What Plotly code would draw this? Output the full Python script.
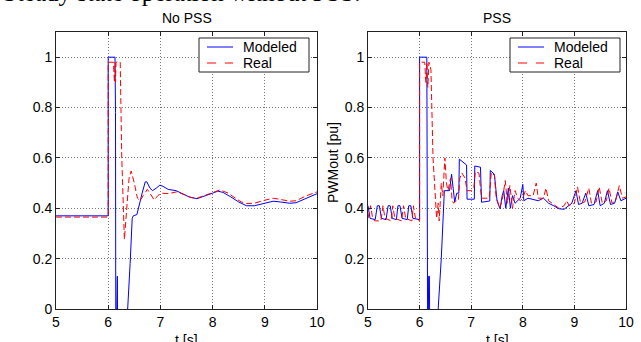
import plotly.graph_objects as go

# ---------------- data ----------------
# Left panel: No PSS
t_mod_nopss = [5.0, 6.0, 6.0, 6.13, 6.14, 6.145, 6.16, 6.165, 6.175, 6.18, 6.36, 6.37, 6.42, 6.46, 6.48,
               6.55, 6.6, 6.65, 6.71, 6.74, 6.8, 6.85, 6.92, 6.99, 7.05, 7.15, 7.3, 7.43, 7.55, 7.7,
               7.85, 8.0, 8.1, 8.2, 8.35, 8.5, 8.65, 8.8, 9.0, 9.16, 9.3, 9.48, 9.6, 9.8, 10.0]
p_mod_nopss = [0.37, 0.37, 1.0, 1.0, 0.78, -0.05, -0.05, 0.13, 0.13, -0.05, -0.05, 0.0, 0.18, 0.36, 0.37,
               0.375, 0.42, 0.46, 0.505, 0.505, 0.48, 0.47, 0.48, 0.492, 0.487, 0.475, 0.47, 0.456, 0.445, 0.438,
               0.448, 0.46, 0.468, 0.463, 0.445, 0.425, 0.41, 0.41, 0.42, 0.428, 0.425, 0.42, 0.422, 0.44, 0.458]

t_real_nopss = [5.0, 6.0, 6.0, 6.1, 6.12, 6.13, 6.14, 6.15, 6.23, 6.26, 6.31, 6.35, 6.4, 6.44, 6.5,
                6.56, 6.61, 6.67, 6.75, 6.8, 6.88, 6.95, 7.02, 7.15, 7.31, 7.45, 7.6, 7.7, 7.85, 8.0,
                8.14, 8.3, 8.45, 8.55, 8.65, 8.8, 9.0, 9.16, 9.3, 9.48, 9.6, 9.8, 10.0]
p_real_nopss = [0.365, 0.365, 0.98, 0.98, 0.9, 0.98, 0.9, 0.98, 0.98, 0.6, 0.276, 0.4, 0.52, 0.548, 0.5,
                0.44, 0.43, 0.45, 0.475, 0.46, 0.433, 0.45, 0.46, 0.458, 0.465, 0.455, 0.442, 0.44, 0.45, 0.462,
                0.473, 0.46, 0.438, 0.425, 0.419, 0.42, 0.432, 0.44, 0.435, 0.428, 0.43, 0.45, 0.465]

# Right panel: PSS
t_mod_pss = [5.0, 5.04, 5.14, 5.18, 5.22, 5.26, 5.35, 5.39, 5.43, 5.47, 5.55, 5.58, 5.62, 5.66, 5.76,
             5.79, 5.83, 5.87, 6.0, 6.0, 6.14, 6.145, 6.155, 6.17, 6.175, 6.19, 6.195, 6.35, 6.36, 6.42, 6.46,
             6.48, 6.58, 6.62, 6.65, 6.68, 6.72, 6.76, 6.77, 6.85, 6.91, 6.92, 7.06, 7.07, 7.18, 7.2,
             7.36, 7.37, 7.45, 7.5, 7.56, 7.6, 7.63, 7.67, 7.72, 7.76, 7.8, 7.85, 7.9, 7.95, 8.0,
             8.02, 8.1, 8.2, 8.3, 8.4, 8.5, 8.6, 8.7, 8.8, 8.9, 8.95, 9.03, 9.08, 9.15, 9.22,
             9.28, 9.38, 9.45, 9.5, 9.58, 9.64, 9.7, 9.78, 9.84, 9.9, 10.0]
p_mod_pss = [0.41, 0.36, 0.355, 0.41, 0.41, 0.36, 0.355, 0.41, 0.41, 0.36, 0.355, 0.41, 0.41, 0.36, 0.355,
             0.41, 0.41, 0.36, 0.355, 1.0, 1.0, 0.77, -0.05, -0.05, 0.13, 0.13, -0.05, -0.05, 0.0, 0.2, 0.4,
             0.47, 0.47, 0.535, 0.48, 0.425, 0.46, 0.46, 0.595, 0.58, 0.572, 0.436, 0.436, 0.568, 0.563, 0.424,
             0.429, 0.55, 0.535, 0.43, 0.398, 0.45, 0.47, 0.4, 0.48, 0.4, 0.45, 0.42, 0.43, 0.44, 0.495,
             0.43, 0.44, 0.435, 0.43, 0.44, 0.42, 0.41, 0.398, 0.396, 0.41, 0.42, 0.47, 0.415, 0.42, 0.46,
             0.41, 0.415, 0.47, 0.41, 0.42, 0.47, 0.415, 0.42, 0.465, 0.43, 0.44]

t_real_pss = [5.0, 5.05, 5.09, 5.13, 5.25, 5.29, 5.33, 5.45, 5.48, 5.52, 5.65, 5.69, 5.73, 5.85, 5.88,
              5.92, 6.0, 6.0, 6.1, 6.12, 6.14, 6.16, 6.18, 6.22, 6.26, 6.3, 6.33, 6.36, 6.38, 6.42,
              6.45, 6.49, 6.52, 6.55, 6.6, 6.63, 6.66, 6.7, 6.75, 6.78, 6.82, 6.88, 6.92, 7.0, 7.05,
              7.08, 7.15, 7.2, 7.35, 7.39, 7.45, 7.48, 7.55, 7.6, 7.66, 7.7, 7.75, 7.8, 7.85, 7.9,
              7.95, 8.0, 8.05, 8.1, 8.2, 8.26, 8.3, 8.4, 8.45, 8.5, 8.6, 8.7, 8.8, 8.85, 8.9,
              9.0, 9.06, 9.12, 9.2, 9.28, 9.33, 9.42, 9.48, 9.54, 9.62, 9.67, 9.73, 9.8, 9.87, 9.93, 10.0]
p_real_pss = [0.36, 0.41, 0.36, 0.35, 0.35, 0.41, 0.36, 0.35, 0.41, 0.36, 0.35, 0.41, 0.36, 0.35, 0.41,
              0.36, 0.35, 0.98, 0.98, 0.9, 0.98, 0.88, 0.98, 0.95, 0.6, 0.45, 0.36, 0.42, 0.35, 0.5,
              0.45, 0.6, 0.5, 0.47, 0.52, 0.43, 0.42, 0.43, 0.43, 0.52, 0.54, 0.52, 0.47, 0.47, 0.48,
              0.545, 0.54, 0.44, 0.44, 0.543, 0.53, 0.45, 0.4, 0.43, 0.51, 0.42, 0.49, 0.4, 0.47, 0.44,
              0.43, 0.44, 0.47, 0.45, 0.45, 0.5, 0.44, 0.44, 0.48, 0.43, 0.415, 0.4, 0.41, 0.43, 0.41,
              0.42, 0.485, 0.42, 0.425, 0.48, 0.42, 0.425, 0.485, 0.42, 0.43, 0.48, 0.42, 0.43, 0.49, 0.44, 0.445]

x_ticks = [5, 6, 7, 8, 9, 10]
y_ticks = [0, 0.2, 0.4, 0.6, 0.8, 1]
titles = ["No PSS", "PSS"]
series_names = ["Modeled", "Real"]

# ---------------- figure ----------------
W, H = 641, 342
BLUE = "#0000ff"
RED = "#ff0000"
DASH = "6px,3px"
FONT = "Liberation Sans, Arial, sans-serif"

fig = go.Figure()

panels = [
    (t_mod_nopss, p_mod_nopss, t_real_nopss, p_real_nopss, "x", "y"),
    (t_mod_pss, p_mod_pss, t_real_pss, p_real_pss, "x2", "y2"),
]
for tm, pm, tr, pr, xa, ya in panels:
    fig.add_trace(go.Scatter(x=tm, y=pm, mode="lines", name=series_names[0], xaxis=xa, yaxis=ya,
                             showlegend=False, hoverinfo="skip", line=dict(color=BLUE, width=1)))
    fig.add_trace(go.Scatter(x=tr, y=pr, mode="lines", name=series_names[1], xaxis=xa, yaxis=ya,
                             showlegend=False, hoverinfo="skip",
                             line=dict(color=RED, width=1, dash=DASH)))

ydom = [33 / H, 310 / H]
xdoms = [[56 / W, 317 / W], [368 / W, 626 / W]]

GRID = dict(showgrid=True, gridcolor="#777", griddash="1px,2px", gridwidth=1)

def xaxis(dom, anchor):
    return dict(domain=dom, anchor=anchor, range=[5, 10], tickvals=x_ticks, automargin=False,
                showline=True, mirror="ticks", linecolor="#222", linewidth=1,
                ticks="inside", ticklen=4, tickcolor="#222", **GRID,
                zeroline=False, tickfont=dict(family=FONT, size=14, color="#000"))

def yaxis(anchor):
    return dict(domain=ydom, anchor=anchor, range=[0, 1.1], tickvals=y_ticks, automargin=False,
                showline=True, mirror="ticks", linecolor="#222", linewidth=1,
                ticks="inside", ticklen=4, tickcolor="#222", **GRID,
                zeroline=False, tickfont=dict(family=FONT, size=14, color="#000"))

fig.update_layout(
    width=W, height=H,
    margin=dict(l=0, r=0, t=0, b=0, pad=0, autoexpand=False),
    paper_bgcolor="white", plot_bgcolor="white",
    xaxis=xaxis(xdoms[0], "y"), yaxis=yaxis("x"),
    xaxis2=xaxis(xdoms[1], "y2"), yaxis2=yaxis("x2"),
    showlegend=False,
)

def px(x):
    return x / W

def py(y):
    return 1 - y / H

annotations = []
shapes = []
legend_left = [199, 510]
for i, dom in enumerate(xdoms):
    cx = (dom[0] + dom[1]) / 2
    annotations.append(dict(text=titles[i], x=cx, y=py(18), xref="paper", yref="paper",
                            xanchor="center", yanchor="middle", showarrow=False,
                            font=dict(family=FONT, size=14, color="#000")))
    annotations.append(dict(text="t [s]", x=cx, y=py(330), xref="paper", yref="paper",
                            xanchor="center", yanchor="top", showarrow=False,
                            font=dict(family=FONT, size=14, color="#000")))
    # legend box
    lx = legend_left[i]
    shapes.append(dict(type="rect", xref="paper", yref="paper", x0=px(lx), x1=px(lx + 110),
                       y0=py(72), y1=py(38), line=dict(color="#222", width=1),
                       fillcolor="white", layer="above"))
    for j, (name, col, dash, yy) in enumerate([(series_names[0], BLUE, "solid", 47),
                                               (series_names[1], RED, "dash", 63)]):
        shapes.append(dict(type="line", xref="paper", yref="paper", x0=px(lx + 8), x1=px(lx + 34),
                           y0=py(yy), y1=py(yy), line=dict(color=col, width=1, dash=dash),
                           layer="above"))
        annotations.append(dict(text=name, x=px(lx + 42), y=py(yy), xref="paper", yref="paper",
                                xanchor="left", yanchor="middle", showarrow=False,
                                font=dict(family=FONT, size=14, color="#000")))

annotations.append(dict(text="PWMout [pu]", x=px(333), y=py(163), xref="paper", yref="paper",
                        xanchor="center", yanchor="middle", textangle=-90, showarrow=False,
                        font=dict(family=FONT, size=14, color="#000")))
annotations.append(dict(text="Steady state operation without PSS.", x=px(1), y=py(8),
                        xref="paper", yref="paper", xanchor="left", yanchor="bottom",
                        showarrow=False,
                        font=dict(family="Liberation Serif, Times New Roman, serif", size=25,
                                  color="#000")))
fig.update_layout(annotations=annotations, shapes=shapes)

fig.write_html("out.html", config={"displayModeBar": False, "staticPlot": True},
               post_script="document.body.style.margin='0';document.body.style.overflow='hidden';")
